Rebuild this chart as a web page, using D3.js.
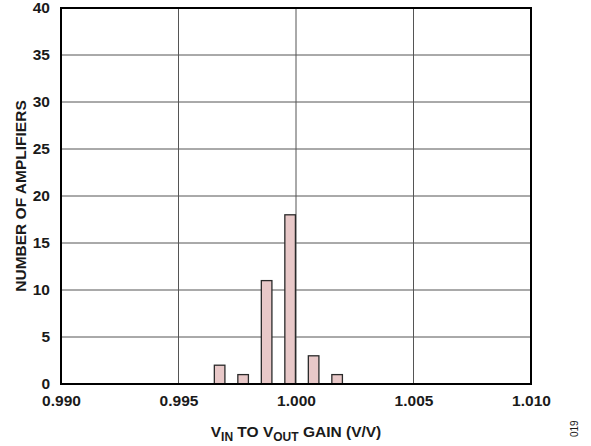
<!DOCTYPE html>
<html><head><meta charset="utf-8">
<script src="https://cdn.jsdelivr.net/npm/d3@7"></script>
<style>body{margin:0;background:#fff}svg{display:block}text{font-family:"Liberation Sans",Arial,sans-serif;font-weight:bold;fill:#1a1a1a}</style>
</head><body><svg id="c" width="591" height="446"></svg>
<script>
const binCenters = [0.99675, 0.99775, 0.99875, 0.99975, 1.00075, 1.00175];
const counts = [2, 1, 11, 18, 3, 1];
const xTicks = [0.990, 0.995, 1.000, 1.005, 1.010];
const yTicks = [0, 5, 10, 15, 20, 25, 30, 35, 40];
const binWidth = 0.00045;

const svg = d3.select("#c");
const L = 61, R = 531, T = 8, B = 384;
const FS = 15.5;
const x = d3.scaleLinear().domain([0.990, 1.010]).range([L, R]);
const y = d3.scaleLinear().domain([0, 40]).range([B, T]);

// grid
svg.append("g").selectAll("line").data(yTicks.slice(1, -1)).join("line")
  .attr("x1", L).attr("x2", R).attr("y1", d => y(d)).attr("y2", d => y(d))
  .attr("stroke", "#555").attr("stroke-width", 1);
svg.append("g").selectAll("line").data(xTicks.slice(1, -1)).join("line")
  .attr("y1", T).attr("y2", B).attr("x1", d => x(d)).attr("x2", d => x(d))
  .attr("stroke", "#555").attr("stroke-width", 1);

// bars
svg.append("g").selectAll("rect").data(counts).join("rect")
  .attr("x", (d, i) => x(binCenters[i] - binWidth / 2))
  .attr("width", (d, i) => x(binCenters[i] + binWidth / 2) - x(binCenters[i] - binWidth / 2))
  .attr("y", d => y(d)).attr("height", d => B - y(d))
  .attr("fill", "#e8c8c8").attr("stroke", "#2a2a2a").attr("stroke-width", 1.3);

// frame
svg.append("rect").attr("x", L).attr("y", T).attr("width", R - L).attr("height", B - T)
  .attr("fill", "none").attr("stroke", "#000").attr("stroke-width", 2);

// axes labels
const xAxis = d3.axisBottom(x).tickValues(xTicks).tickFormat(d3.format(".3f")).tickSize(0).tickPadding(11);
const gx = svg.append("g").attr("transform", `translate(0,${B})`).call(xAxis);
gx.select(".domain").remove();
gx.selectAll("text").attr("font-size", FS).attr("fill", "#1a1a1a").style("font-family", '"Liberation Sans",Arial,sans-serif');

const yAxis = d3.axisLeft(y).tickValues(yTicks).tickSize(0).tickPadding(11);
const gy = svg.append("g").attr("transform", `translate(${L},0)`).call(yAxis);
gy.select(".domain").remove();
gy.selectAll("text").attr("font-size", FS).attr("fill", "#1a1a1a").style("font-family", '"Liberation Sans",Arial,sans-serif');

// x title
const xt = svg.append("text").attr("x", x(1.000)).attr("y", 437).attr("text-anchor", "middle").attr("font-size", FS);
xt.append("tspan").text("V");
xt.append("tspan").attr("font-size", 12).attr("dy", 4).text("IN");
xt.append("tspan").attr("dy", -4).text(" TO V");
xt.append("tspan").attr("font-size", 12).attr("dy", 4).text("OUT");
xt.append("tspan").attr("dy", -4).text(" GAIN (V/V)");

// y title
svg.append("text").attr("transform", `translate(26,${(T + B) / 2}) rotate(-90)`)
  .attr("text-anchor", "middle").attr("font-size", FS).text("NUMBER OF AMPLIFIERS");

// figure code
svg.append("text").attr("transform", "translate(578,437) rotate(-90)")
  .attr("font-size", 10).style("font-weight", "normal").attr("fill", "#333").text("019");
</script></body></html>
